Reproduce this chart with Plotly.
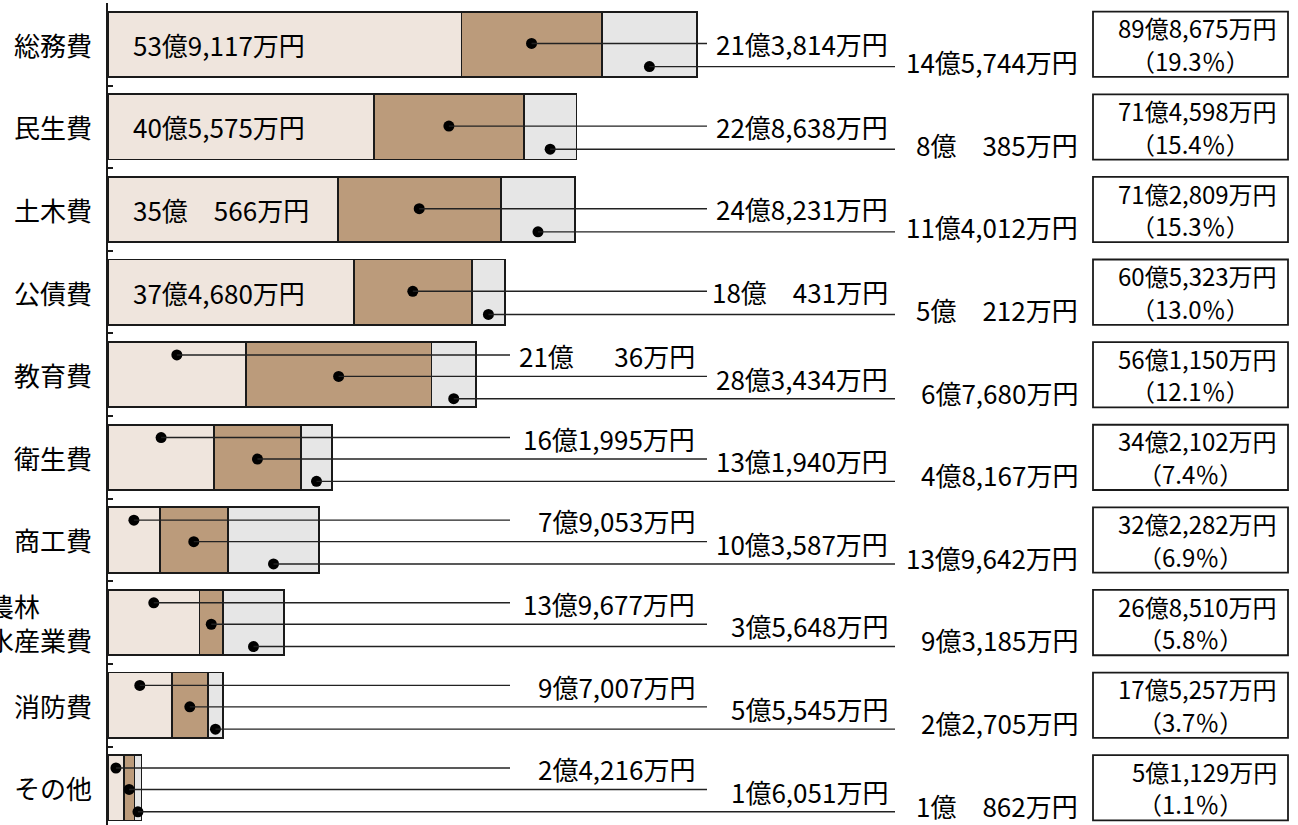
import plotly.graph_objects as go

# ---- data (万円) ----
categories = ["総務費", "民生費", "土木費", "公債費", "教育費",
              "衛生費", "商工費", "農林<br>水産業費", "消防費", "その他"]
seg_a = [539117, 405575, 350566, 374680, 210036, 161995, 79053, 139677, 97007, 24216]
seg_b = [213814, 228638, 248231, 180431, 283434, 131940, 103587, 35648, 55545, 16051]
seg_c = [145744, 80385, 114012, 50212, 67680, 48167, 139642, 93185, 22705, 10862]
totals = [898675, 714598, 712809, 605323, 561150, 342102, 322282, 268510, 175257, 51129]
shares = [19.3, 15.4, 15.3, 13.0, 12.1, 7.4, 6.9, 5.8, 3.7, 1.1]
first_inside = [True, True, True, True, False, False, False, False, False, False]

# ---- style / layout ----
W, H = 1298, 825
ML, MT = 108, 3
PW = W - ML
XMAX = 1815000
FONT = "Noto Sans CJK JP"
FS = 26
COLORS = ["#efe5dd", "#bb9b7b", "#e6e6e6"]
EDGE = "#1a1a1a"
LINEC = "#222222"


def px2paper(px):
    return (px - ML) / PW


def px2x(px):
    return (px - ML) / PW * XMAX


def fmt(v):
    oku, man = divmod(v, 10000)
    if man >= 1000:
        m = f"{man:,}"
    else:
        s = str(man)
        m = "\u3000" + "\u2007" * (3 - len(s)) + s
    return f"{oku}億{m}万円"


rows = list(range(len(categories)))
fig = go.Figure()
for vals, col in zip([seg_a, seg_b, seg_c], COLORS):
    fig.add_trace(go.Bar(y=rows, x=vals, orientation="h", width=0.79,
                         marker=dict(color=col, line=dict(color=EDGE, width=1.8)),
                         hoverinfo="skip", showlegend=False))

line_end = [px2x(510), px2x(707), px2x(895)]
label_right = [697, 890, 1080]
off3 = [-0.24, 0.02, 0.29]
off2 = [None, -0.01, 0.27]
lab_off3 = [-0.23, 0.04, 0.21]
lab_off2 = [None, -0.01, 0.21]

dot_x, dot_y = [], []
shapes = []
annotations = []
for i in rows:
    vals = [seg_a[i], seg_b[i], seg_c[i]]
    starts = [0, seg_a[i], seg_a[i] + seg_b[i]]
    offs = off2 if first_inside[i] else off3
    loffs = lab_off2 if first_inside[i] else lab_off3
    for j in range(3):
        if offs[j] is None:
            annotations.append(dict(x=px2paper(131), xref="paper", y=i, yref="y",
                                    text=fmt(vals[j]), showarrow=False,
                                    xanchor="left", yanchor="middle"))
            continue
        cx = starts[j] + vals[j] / 2
        yy = i + offs[j]
        dot_x.append(cx)
        dot_y.append(yy)
        shapes.append(dict(type="line", xref="x", yref="y", x0=cx, x1=line_end[j],
                           y0=yy, y1=yy, line=dict(color=LINEC, width=1.4)))
        annotations.append(dict(x=px2paper(label_right[j]), xref="paper",
                                y=i + loffs[j], yref="y", text=fmt(vals[j]),
                                showarrow=False, xanchor="right", yanchor="middle"))
    # total box
    shapes.append(dict(type="rect", xref="paper", yref="y",
                       x0=px2paper(1093), x1=px2paper(1288), y0=i - 0.395, y1=i + 0.395,
                       line=dict(color=EDGE, width=1.8), fillcolor="white"))
    annotations.append(dict(x=px2paper(1279), xref="paper", y=i - 0.2, yref="y",
                            text=fmt(totals[i]), showarrow=False,
                            xanchor="right", yanchor="middle", font=dict(size=24)))
    annotations.append(dict(x=px2paper(1190), xref="paper", y=i + 0.195, yref="y",
                            text=f"（{shares[i]:.1f}％）", showarrow=False,
                            xanchor="center", yanchor="middle", font=dict(size=24)))
    # category label
    annotations.append(dict(x=px2paper(94), xref="paper", y=i, yref="y",
                            text=categories[i], showarrow=False,
                            xanchor="right", yanchor="middle", align="left"))

fig.add_trace(go.Scatter(x=dot_x, y=dot_y, mode="markers",
                         marker=dict(color="black", size=11),
                         hoverinfo="skip", showlegend=False, cliponaxis=False))

fig.update_layout(
    width=W, height=H,
    margin=dict(l=ML, r=0, t=MT, b=0, pad=0),
    barmode="stack", bargap=0.2,
    paper_bgcolor="white", plot_bgcolor="white",
    font=dict(family=FONT, size=FS, color="black"),
    shapes=shapes, annotations=annotations,
    xaxis=dict(range=[0, XMAX], visible=False, fixedrange=True),
    yaxis=dict(range=[9.45, -0.5], showline=True, linecolor=EDGE, linewidth=1.5,
               ticks="inside", ticklen=5, tickcolor=EDGE, tickwidth=1.5,
               tickvals=[k - 0.5 for k in rows], showticklabels=False,
               showgrid=False, zeroline=False, fixedrange=True),
)

fig.write_html("out.html", config={"displayModeBar": False},
               post_script="document.body.style.margin='0';document.body.style.overflow='hidden';")
